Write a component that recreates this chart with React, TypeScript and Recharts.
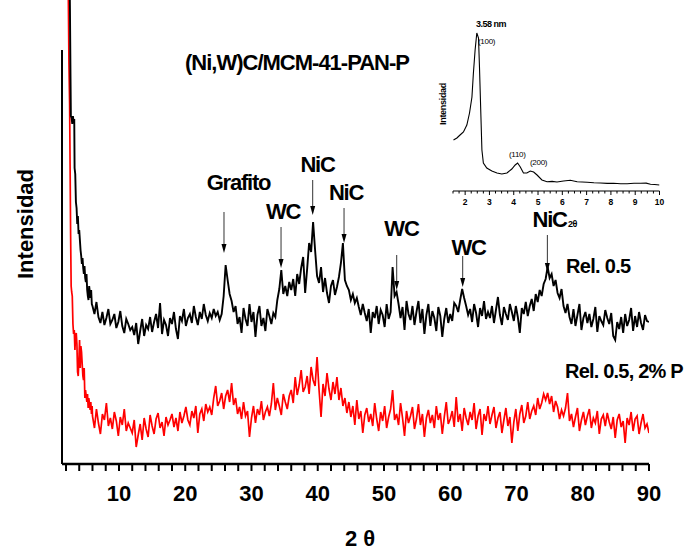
import React from 'react';
import { LineChart, Line, XAxis, YAxis, ReferenceLine, ReferenceDot } from 'recharts';

const FONT = '"Liberation Sans", Arial, sans-serif';

// ---------- main pattern: steep low-angle part (explicit angles) ----------
const blackLowAngles = [2.35, 2.5, 2.6, 2.68, 2.74, 2.85, 2.95, 3.05, 3.15, 3.25, 3.3, 3.4, 3.5, 3.6, 3.7, 3.8, 3.9, 4.0, 4.1, 4.2, 4.3, 4.4, 4.5, 4.6, 4.7, 4.8, 4.9, 5.0, 5.1, 5.2, 5.3, 5.4, 5.5, 5.6, 5.7, 5.8, 5.9];
const blackLowCounts = [640, 520, 455, 390, 348, 346, 340, 348, 342, 345, 296, 290, 262, 256, 240, 248, 230, 234, 224, 214, 208, 200, 206, 196, 190, 198, 186, 182, 190, 174, 168, 164, 178, 172, 166, 174, 160];

const redLowAngles = [2.2, 2.35, 2.45, 2.55, 2.62, 2.7, 2.78, 2.86, 2.95, 3.05, 3.15, 3.25, 3.35, 3.45, 3.55, 3.65, 3.75, 3.85, 3.95, 4.05, 4.15, 4.25, 4.35, 4.45, 4.55, 4.65, 4.75, 4.85, 4.95, 5.05, 5.15, 5.25, 5.35, 5.45, 5.55, 5.65, 5.75, 5.85, 5.95];
const redLowCounts = [620, 470, 400, 360, 300, 230, 178, 172, 168, 140, 130, 134, 114, 128, 131, 120, 92, 88, 104, 124, 96, 118, 112, 100, 88, 84, 96, 66, 74, 68, 62, 70, 56, 66, 60, 54, 62, 50, 58];

// ---------- main pattern: regular scan 6.0 .. 90.0, step 0.3 ----------
const scanStart = 6.0;
const scanStep = 0.3;
const blackCounts = [
  158, 150, 162, 147, 141, 152, 139, 146, 155, 140,
  144, 150, 136, 142, 153, 138, 131, 145, 140, 134,
  137, 129, 141, 120, 133, 145, 128, 139, 135, 147,
  132, 142, 150, 136, 161, 130, 144, 139, 128, 146,
  140, 152, 135, 125, 148, 143, 155, 138, 146, 150,
  141, 158, 147, 139, 152, 145, 160, 149, 143, 151,
  146, 155, 148, 152, 144, 150, 168, 199, 184, 170,
  163, 152, 158, 140, 147, 131, 156, 145, 138, 160,
  142, 152, 127, 149, 158, 138, 146, 133, 155, 148,
  140, 151, 147, 164, 175, 194, 170, 178, 168, 182,
  174, 185, 168, 190, 180, 196, 207, 171, 195, 221,
  212, 242, 214, 188, 181, 197, 172, 186, 171, 161,
  178, 184, 169, 177, 187, 201, 221, 184, 178, 174,
  164, 170, 161, 166, 157, 149, 160, 151, 143, 155,
  131, 152, 146, 158, 140, 154, 149, 137, 160, 145,
  152, 197, 168, 172, 160, 146, 157, 134, 163, 150,
  144, 158, 139, 152, 163, 141, 155, 130, 149, 160,
  138, 153, 146, 133, 157, 148, 127, 145, 156, 141,
  150, 143, 161, 158, 152, 164, 175, 166, 158, 149,
  155, 142, 160, 151, 137, 156, 148, 163, 145, 152,
  146, 158, 141, 154, 167, 149, 139, 157, 150, 144,
  160, 152, 143, 158, 147, 131, 156, 150, 162, 148,
  158, 165, 153, 170, 162, 174, 168, 180, 185, 197,
  186, 190, 178, 184, 171, 166, 175, 158, 151, 160,
  147, 140, 155, 138, 149, 160, 134, 146, 152, 141,
  150, 137, 145, 157, 132, 148, 143, 139, 154, 146,
  140, 151, 128, 124, 142, 135, 147, 131, 150, 138,
  144, 156, 133, 148, 137, 152, 141, 134, 149, 143, 142,
];
const redCounts = [
  48, 36, 55, 41, 30, 50, 44, 61, 38, 46,
  35, 52, 43, 28, 47, 39, 55, 33, 41, 36,
  31, 44, 17, 29, 40, 24, 46, 35, 27, 49,
  38, 30, 45, 51, 36, 42, 28, 47, 39, 44,
  50, 37, 46, 33, 52, 41, 48, 57, 44, 39,
  53, 46, 58, 31, 50, 55, 43, 60, 52, 57,
  49, 66, 78, 58, 63, 71, 55, 68, 74, 62,
  81, 59, 66, 50, 57, 45, 62, 48, 53, 27,
  46, 58, 41, 55, 49, 63, 44, 52, 57, 48,
  60, 81, 54, 66, 58, 49, 70, 62, 55, 68,
  74, 61, 87, 69, 79, 94, 72, 77, 88, 70,
  97, 84, 78, 107, 74, 47, 80, 68, 91, 75,
  64, 82, 70, 87, 64, 76, 58, 66, 51, 62,
  47, 58, 39, 64, 45, 53, 31, 49, 56, 42,
  50, 38, 61, 45, 33, 52, 43, 58, 36, 47,
  55, 74, 44, 50, 39, 61, 46, 28, 53, 41,
  48, 57, 35, 45, 60, 39, 50, 27, 46, 54,
  41, 49, 36, 58, 44, 51, 30, 47, 62, 40,
  45, 53, 37, 67, 42, 50, 33, 56, 46, 39,
  52, 44, 61, 35, 48, 55, 29, 50, 43, 58,
  40, 49, 57, 36, 46, 52, 31, 44, 56, 38,
  47, 21, 42, 55, 33, 50, 59, 41, 48, 62,
  45, 53, 58, 49, 66, 55, 61, 70, 64, 71,
  60, 68, 52, 63, 57, 45, 54, 48, 56, 71,
  43, 50, 37, 47, 56, 33, 44, 52, 39, 48,
  55, 36, 46, 41, 53, 30, 45, 49, 38, 51,
  42, 35, 47, 26, 44, 50, 37, 43, 21, 46,
  39, 52, 33, 45, 48, 30, 41, 50, 36, 40, 31,
];

const mainTicks = [2, 4, 6, 8, 10, 12, 14, 16, 18, 20, 22, 24, 26, 28, 30, 32, 34, 36, 38, 40, 42, 44, 46, 48, 50, 52, 54, 56, 58, 60, 62, 64, 66, 68, 70, 72, 74, 76, 78, 80, 82, 84, 86, 88, 90];
const mainLabelledTicks = [10, 20, 30, 40, 50, 60, 70, 80, 90];

// ---------- peak annotations ----------
const peakNames = ['Grafito', 'WC', 'NiC', 'NiC', 'WC', 'WC', 'NiC'];
const peakArrowAngles = [25.85, 34.46, 39.24, 43.97, 51.92, 61.88, 74.66];
const peakArrowTops = [252, 237, 284, 256, 209, 208, 229];
const peakArrowTips = [211, 196, 249, 221, 174, 177, 192];
const peakLabelAngles = [28.04, 34.76, 39.97, 44.27, 52.64, 62.76, 75.0];
const peakLabelLevels = [274, 245, 292, 264, 228.5, 209, 237.5];

// ---------- inset (low-angle MCM-41 pattern) ----------
const insetAngles = [1.52, 1.66, 1.79, 1.93, 2.07, 2.18, 2.28, 2.34, 2.41, 2.48, 2.55, 2.59, 2.65, 2.69, 2.75, 2.89, 3.10, 3.31, 3.51, 3.72, 3.92, 4.06, 4.16, 4.27, 4.40, 4.54, 4.68, 4.82, 4.96, 5.16, 5.37, 5.58, 5.78, 6.05, 6.33, 6.61, 7.02, 7.30, 7.57, 7.85, 8.11, 8.40, 8.67, 8.95, 9.22, 9.45, 9.63, 9.80, 10.0];
const insetCounts = [51, 53, 56, 59, 66, 78, 94, 118, 141, 158, 153, 124, 74, 41, 28, 23, 20, 18, 17, 18, 22, 26, 28, 24, 18, 18, 20, 19, 16, 11, 9.3, 9.6, 9, 10, 10.7, 9.3, 8.7, 8.2, 8, 7.6, 7.7, 7.2, 7.3, 7.8, 7.7, 7.9, 6.7, 6.5, 6];
const insetTicks = [1.5, 1.75, 2, 2.25, 2.5, 2.75, 3, 3.25, 3.5, 3.75, 4, 4.25, 4.5, 4.75, 5, 5.25, 5.5, 5.75, 6, 6.25, 6.5, 6.75, 7, 7.25, 7.5, 7.75, 8, 8.25, 8.5, 8.75, 9, 9.25, 9.5, 9.75, 10];

// ---------- assembled series ----------
const scanAngle = (i: number) => Math.round((scanStart + i * scanStep) * 100) / 100;
const blackData = [
  ...blackLowAngles.map((x, i) => ({ x, y: blackLowCounts[i] })),
  ...blackCounts.map((y, i) => ({ x: scanAngle(i), y })),
];
const redData = [
  ...redLowAngles.map((x, i) => ({ x, y: redLowCounts[i] })),
  ...redCounts.map((y, i) => ({ x: scanAngle(i), y })),
];
const insetData = insetAngles.map((x, i) => ({ x, y: insetCounts[i] }));

function MainTick(props: any) {
  const { x, y, payload } = props;
  const v = payload.value;
  return (
    <g>
      <line x1={x} x2={x} y1={y} y2={y + 7} stroke="#000" strokeWidth={2} />
      {mainLabelledTicks.includes(v) ? (
        <text x={x} y={y + 37} textAnchor="middle" fontFamily={FONT} fontWeight="bold" fontSize={22} fill="#000">
          {v}
        </text>
      ) : null}
    </g>
  );
}

function InsetTick(props: any) {
  const { x, y, payload } = props;
  const v = payload.value;
  const major = Number.isInteger(v);
  return (
    <g>
      <line x1={x} x2={x} y1={y} y2={y + (major ? 4 : 2.5)} stroke="#000" strokeWidth={1} />
      {major ? (
        <text x={x} y={y + 13.5} textAnchor="middle" fontFamily={FONT} fontWeight="bold" fontSize={8.5} fill="#000">
          {v}
        </text>
      ) : null}
    </g>
  );
}

function InsetYTick(props: any) {
  const { x, y } = props;
  return <line x1={x - 3} x2={x} y1={y} y2={y} stroke="#000" strokeWidth={1} />;
}

const arrowHead = (p: any) => (
  <polygon points={`${p.cx - 2.5},${p.cy - 9} ${p.cx + 2.5},${p.cy - 9} ${p.cx},${p.cy}`} fill="#000" />
);

const peakLabel = (text: string) => (p: any) => (
  <text x={p.cx} y={p.cy} textAnchor="middle" fontFamily={FONT} fontWeight="bold" fontSize={22} letterSpacing={-1.2} fill="#000">
    {text}
  </text>
);

export default function App() {
  return (
    <div style={{ position: 'absolute', left: 0, top: 0, width: 687, height: 550, background: '#fff', overflow: 'hidden' }}>
      <div style={{ position: 'absolute', left: 0, top: 0 }}>
        <LineChart width={687} height={550} margin={{ top: 0, right: 38, bottom: 0, left: 62 }}>
          <XAxis
            type="number"
            dataKey="x"
            domain={[1.4, 90]}
            ticks={mainTicks}
            interval={0}
            allowDataOverflow
            height={86}
            tickSize={0}
            tickMargin={0}
            tickLine={false}
            axisLine={{ stroke: '#000', strokeWidth: 2.5 }}
            tick={(p: any) => <MainTick {...p} />}
          />
          <YAxis type="number" hide domain={[0, 464]} allowDataOverflow />
          <ReferenceLine
            segment={[{ x: 1.4, y: 0 }, { x: 1.4, y: 414 }]}
            stroke="#000"
            strokeWidth={2}
            ifOverflow="visible"
          />
          <Line data={redData} dataKey="y" type="linear" stroke="#ff0000" strokeWidth={1.7} dot={false} activeDot={false} isAnimationActive={false} />
          <Line data={blackData} dataKey="y" type="linear" stroke="#000" strokeWidth={1.9} dot={false} activeDot={false} isAnimationActive={false} />
          {peakNames.map((name, i) => (
            <ReferenceLine
              key={'a' + i}
              segment={[{ x: peakArrowAngles[i], y: peakArrowTops[i] }, { x: peakArrowAngles[i], y: peakArrowTips[i] + 6 }]}
              stroke="#333"
              strokeWidth={1}
              ifOverflow="visible"
            />
          ))}
          {peakNames.map((name, i) => (
            <ReferenceDot key={'h' + i} x={peakArrowAngles[i]} y={peakArrowTips[i]} r={0} ifOverflow="visible" shape={arrowHead} />
          ))}
          {peakNames.map((name, i) => (
            <ReferenceDot key={'l' + i} x={peakLabelAngles[i]} y={peakLabelLevels[i]} r={0} ifOverflow="visible" shape={peakLabel(name)} />
          ))}
        </LineChart>
      </div>

      <div style={{ position: 'absolute', left: 420, top: 0 }}>
        <LineChart width={267} height={215} margin={{ top: 12, right: 27.5, bottom: 0, left: 33 }}>
          <XAxis
            type="number"
            dataKey="x"
            domain={[1.5, 10]}
            ticks={insetTicks}
            interval={0}
            allowDataOverflow
            height={24}
            tickSize={0}
            tickMargin={0}
            tickLine={false}
            axisLine={{ stroke: '#000', strokeWidth: 1.2 }}
            tick={(p: any) => <InsetTick {...p} />}
          />
          <YAxis
            type="number"
            domain={[0, 179]}
            ticks={[93]}
            width={0}
            tickSize={0}
            tickMargin={0}
            tickLine={false}
            axisLine={{ stroke: '#000', strokeWidth: 1.2 }}
            tick={(p: any) => <InsetYTick {...p} />}
          />
          <Line data={insetData} dataKey="y" type="linear" stroke="#000" strokeWidth={1.1} dot={false} activeDot={false} isAnimationActive={false} />
        </LineChart>
      </div>

      <svg width={687} height={550} style={{ position: 'absolute', left: 0, top: 0, pointerEvents: 'none' }}>
        <g fontFamily={FONT} fill="#000">
          <text x={297} y={70} textAnchor="middle" fontWeight="bold" fontSize={22} letterSpacing={-1}>(Ni,W)C/MCM-41-PAN-P</text>
          <text x={33} y={224} textAnchor="middle" fontWeight="bold" fontSize={22} transform="rotate(-90 33 224)">Intensidad</text>
          <text x={345} y={546} fontWeight="bold" fontSize={22}>2 θ</text>
          <text x={566} y={273} fontWeight="bold" fontSize={20} letterSpacing={-0.7}>Rel. 0.5</text>
          <text x={565} y={378} fontWeight="bold" fontSize={20} letterSpacing={-0.8}>Rel. 0.5, 2% P</text>
          <text x={446} y={104} textAnchor="middle" fontWeight="bold" fontSize={9} letterSpacing={-0.3} transform="rotate(-90 446 104)">Intensidad</text>
          <text x={476} y={27} fontWeight="bold" fontSize={9} letterSpacing={-0.5}>3.58 nm</text>
          <text x={478} y={44} fontSize={8} letterSpacing={-0.3}>(100)</text>
          <text x={509} y={157} fontSize={8} letterSpacing={-0.3}>(110)</text>
          <text x={530} y={165} fontSize={8} letterSpacing={-0.3}>(200)</text>
          <text x={572.5} y={227} textAnchor="middle" fontWeight="bold" fontSize={9} letterSpacing={-0.5}>2θ</text>
        </g>
      </svg>
    </div>
  );
}
